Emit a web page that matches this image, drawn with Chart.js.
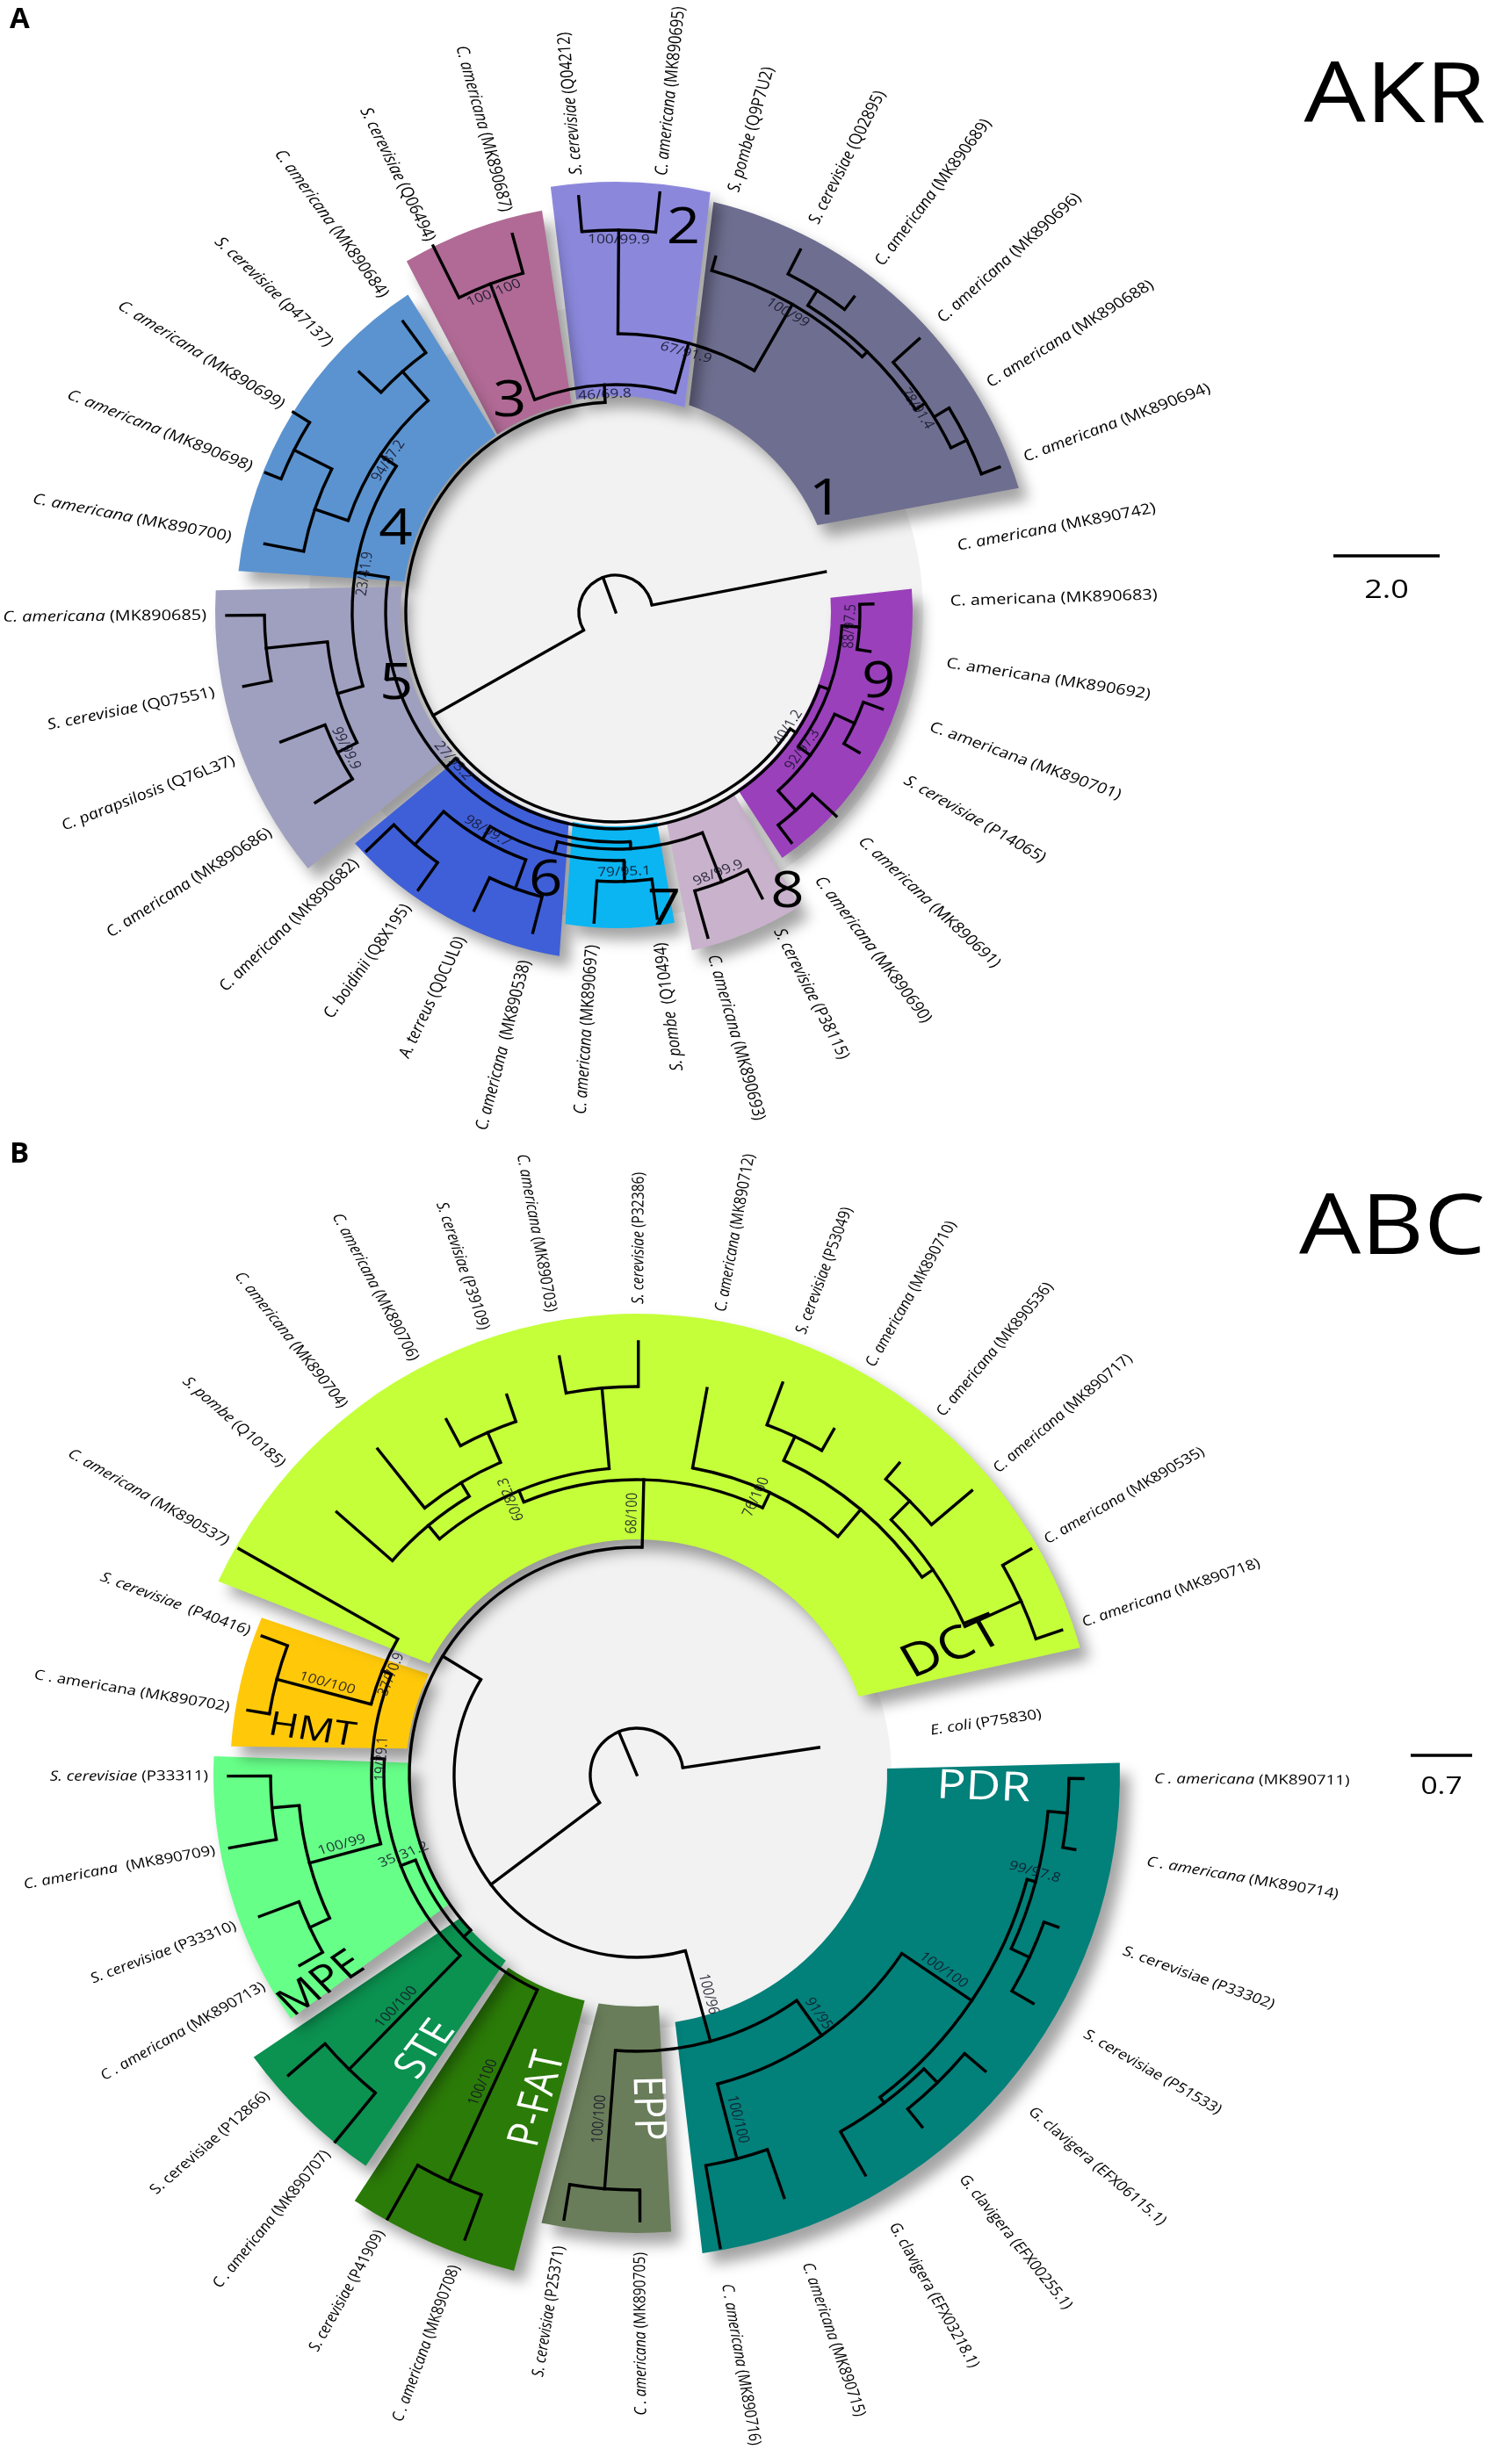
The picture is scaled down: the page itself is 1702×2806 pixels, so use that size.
<!DOCTYPE html>
<html>
<head>
<meta charset="utf-8">
<title>AKR / ABC phylogenies</title>
<script src="https://cdn.jsdelivr.net/npm/chart.js@4.4.1/dist/chart.umd.min.js"></script>
<style>
  html, body { margin: 0; padding: 0; background: #fff; }
  #wrap { width: 1702px; height: 2806px; }
</style>
</head>
<body>
<div id="wrap"><canvas id="tree" width="1702" height="2806"></canvas></div>
<script>
/* ============================================================
   Circular phylogenies (AKR, ABC) drawn on a Chart.js scatter
   ============================================================ */

const deg = Math.PI / 180;
const TEXT_STRETCH = 1.2;   /* the figure's lettering is set a little wide */

/* ─── Panel A: AKR leaves (clockwise) ─── */
const akrSpecies = ["C. americana","C. americana","C. americana","S. cerevisiae","C. americana","C. americana",
  "S. cerevisiae","C. americana","S. pombe ","C. americana","C. americana ","A. terreus","C. boidinii","C. americana",
  "C. americana","C. parapsilosis","S. cerevisiae","C. americana","C. americana","C. americana","C. americana",
  "S. cerevisiae","C. americana","S. cerevisiae","C. americana","S. cerevisiae","C. americana","S. pombe",
  "S. cerevisiae","C. americana","C. americana","C. americana","C. americana","C. americana"];
const akrAccession = ["MK890683","MK890692","MK890701","P14065","MK890691","MK890690","P38115","MK890693",
  "Q10494","MK890697","MK890538","Q0CUL0","Q8X195","MK890682","MK890686","Q76L37","Q07551","MK890685",
  "MK890700","MK890698","MK890699","p47137","MK890684","Q06494","MK890687","Q04212","MK890695","Q9P7U2",
  "Q02895","MK890689","MK890696","MK890688","MK890694","MK890742"];
const akrLeafAngle = [-1.8,8.8,20,30,42.8,52.7,62.9,74.2,82.3,94,104.5,115.4,125.4,136.2,147.6,158.8,168.7,179.5,
  191,201.7,211.8,223.1,233.8,243.5,254.7,264.9,276,285.7,297,307.1,318,328.5,339.3,349.1];
const akrTipRadius = [293,293,323,320,342,330,366,385,352,354,377,376,388,393,405,409,432,443,
  407,429,432,400,410,466,446,475,480,420,463,450,465,426,467,243];
const akrLeafClade = [9,9,9,9,9,9,8,8,7,7,6,6,6,6,5,5,5,5,4,4,4,4,4,3,3,2,2,1,1,1,1,1,1,0];
const akrUpright = [0,1,2];

/* node: r = radius of the node, s = support, c = children (numbers are leaves) */
const akrTree = {r:42, c:[
  {r:239, c:[
    {r:247, a:33.8, s:"40/1.2", c:[
      {r:258, c:[ {r:278, s:"88/97.5", c:[0,1]},
                  {r:275, s:"92/97.3", c:[{r:300, c:[2,3]}, {r:305, c:[4,5]}]} ]},
      {r:262, s:"27/93.2", c:[
        {r:270, c:[ {r:330, s:"98/99.9", c:[6,7]},
                    {r:283, c:[ {r:307, s:"79/95.1", c:[8,9]},
                                {r:300, s:"98/99.7", c:[{r:335, c:[10,11]}, {r:350, c:[12,13]}]} ]} ]},
        {r:300, s:"23/41.9", c:[
          {r:330, c:[ {r:355, s:"99/99.9", c:[14,15]}, {r:400, c:[16,17]} ]},
          {r:322, s:"94/87.2", c:[ {r:362, c:[18, {r:410, c:[19,20]}]}, {r:366, c:[21,22]} ]}
        ]}
      ]}
    ]},
    {r:259, s:"46/69.8", c:[
      {r:400, s:"100/100", c:[23,24]},
      {r:317, s:"67/91.9", c:[
        {r:435, s:"100/99.9", c:[25,26]},
        {r:404, s:"100/99", c:[27, {r:412, c:[ {r:432, c:[28,29]},
                                              {r:425, s:"78/91.4", c:[30, {r:445, c:[31,32]}]} ]}]}
      ]}
    ]}
  ]},
  33
]};

const akrWedgeName   = ["1","2","3","4","5","6","7","8","9"];
const akrWedgeColor  = ["#6e6e90","#8b88dc","#b06a95","#5b93d0","#9f9fbf","#3f5fd8","#0bb5f2","#c9b2cc","#9a40bb"];
const akrWedgeRadius = [[250,480],[246,490],[243,465],[243,432],[245,456],[245,397],[244,360],[247,395],[245,338]];
const akrWedgeInner  = [[289.5,336.7],[259.5,288.6],[236.3,258],[188.3,235.8],[139.4,186.8],[102.6,137.1],[78.9,101.6],[57,76.4],[-3.8,55.5]];
const akrWedgeOuter  = [[283.4,342.9],[261.3,282.7],[239.2,259.6],[186.2,236.8],[140.2,183.1],[99.3,138.4],[79.3,99.2],[58,77.3],[-4.5,55.9]];

/* ─── Panel B: ABC leaves (clockwise) ─── */
const abcSpecies = ["C . americana","C . americana","S. cerevisiae","S. cerevisiae","G. clavigera","G. clavigera",
  "G. clavigera","C. americana","C . americana","C . americana","S. cerevisiae","C . americana","S. cerevisiae",
  "C . americana","S. cerevisiae","C . americana","S. cerevisiae","C. americana ","S. cerevisiae","C . americana",
  "S. cerevisiae ","C. americana","S. pombe","C. americana","C. americana","S. cerevisiae","C. americana",
  "S. cerevisiae","C. americana","S. cerevisiae","C. americana","C. americana","C. americana","C. americana",
  "C. americana","E. coli"];
const abcAccession = ["MK890711","MK890714","P33302","P51533","EFX06115.1","EFX00255.1","EFX03218.1","MK890715",
  "MK890716","MK890705","P25371","MK890708","P41909","MK890707","P12866","MK890713","P33310","MK890709","P33311",
  "MK890702","P40416","MK890537","Q10185","MK890704","MK890706","P39109","MK890703","P32386","MK890712","P53049",
  "MK890710","MK890536","MK890717","MK890535","MK890718","P75830"];
const abcLeafAngle = [0.5,9.7,19.9,30,40.4,51,60.3,70.8,80,89.6,99.3,110.3,119.3,129.4,139.2,150.5,159.4,169.8,
  179.8,189.4,200.3,209.6,221.2,231.5,241.8,251.1,259.5,270.2,280.3,290.4,299.7,310.1,319.7,330.2,341.2,351.5];
const abcTipRadius = [508,506,510,521,521,516,525,510,547,508,513,564,580,541,524,441,459,471,465,449,455,521,
  454,474,459,457,484,493,447,476,453,464,500,517,511,209.5];
const abcLeafClade = [1,1,1,1,1,1,1,1,1,2,2,3,3,4,4,5,5,5,5,6,6,7,7,7,7,7,7,7,7,7,7,7,7,7,7,0];
const abcUpright = [2,3,4,5,6,14,19];

const abcTree = {r:53, c:[
  {r:208, c:[
    {r:315, s:"100/96", o:"r", c:[
      {r:364, s:"91/95", o:"r", c:[
        {r:460, s:"100/100", o:"r", c:[
          {r:470, s:"99/97.8", o:"r", c:[ {r:492, c:[0,1]}, {r:493, c:[2,3]} ]},
          {r:468, c:[ {r:490, c:[4,5]}, 6 ]}
        ]},
        {r:452, s:"100/100", o:"r", c:[7,8]}
      ]},
      {r:473, s:"100/100", o:"r", c:[9,10]}
    ]},
    {r:259, a:211.4, c:[
      {r:270, c:[
        {r:510, s:"100/100", o:"r", c:[11,12]},
        {r:288, s:"35/31.2", o:"r", c:[
          {r:469, s:"100/100", o:"r", c:[13,14]},
          {r:302, s:"19/29.1", c:[
            {r:386, s:"100/99", o:"r", c:[ {r:411, c:[15,16]}, {r:417, c:[17,18]} ]},
            {r:313, s:"37/70.9", c:[ {r:424, s:"100/100", o:"r", c:[19,20]}, 21 ]}
          ]}
        ]}
      ]},
      {r:336, s:"68/100", o:"r", c:[
        {r:350, s:"60/82.3", o:"r", c:[ {r:370, c:[22, {r:388, c:[23, {r:425, c:[24,25]}]}]}, {r:442, c:[26,27]} ]},
        {r:355, s:"76/100", o:"r", c:[28, {r:395, c:[ {r:425, c:[29,30]},
                                                        {r:410, c:[ {r:440, c:[31,32]}, {r:480, c:[33,34]} ]} ]}]}
      ]}
    ]}
  ]},
  35
]};

const abcWedgeName   = ["PDR","EPP","P-FAT","STE","MPE","HMT","DCT"];
const abcWedgeColor  = ["#02807a","#697d5a","#2b7b08","#0b9150","#66ff88","#ffc90a","#c4ff3a"];
const abcWedgeRadius = [[285,550],[264,522],[264,582],[259,542],[258,482],[263,463],[268,525]];
const abcWedgeInner  = [[-1.4,81.2],[84.6,99.5],[103,123.7],[125.2,140.9],[145.4,183],[186.5,205.8],[208.2,340.6]];
const abcWedgeOuter  = [[-1.4,82.2],[85.7,102],[103.9,123.5],[124.7,143.6],[144.8,182.5],[184,202.7],[204.8,344]];

/* ─── Layout (page px) ─── */
const panels = [
  { key: "A", title: "AKR", center: {x:701, y:697}, disc: 350, font: 16.6,
    species: akrSpecies, acc: akrAccession, angles: akrLeafAngle, tips: akrTipRadius,
    clade: akrLeafClade, upright: akrUpright, raw: akrTree,
    labelR: {0:396, 1:497, 2:500, 3:473, 4:446, 5:466, 6:410, 7:380, 8:406, 9:381},
    wedges: { name: akrWedgeName, color: akrWedgeColor, radius: akrWedgeRadius, inner: akrWedgeInner, outer: akrWedgeOuter,
              ink: akrWedgeName.map(() => "#000"), size: akrWedgeName.map(() => 56), upright: true,
              pos: [[270.6,332],[443,280],[268,243.2],[267,200.3],[263,161.7],[317,104.6],[344,80.8],[375,58.6],[310,15.1]] },
    letter: {x:11, y:6}, titlePos: {x:1588, y:112}, bar: {x0:1518, x1:1639, y:633, text:"2.0", ty:672, size:30}
  },
  { key: "B", title: "ABC", center: {x:725, y:2021}, disc: 290, font: 15.6,
    species: abcSpecies, acc: abcAccession, angles: abcLeafAngle, tips: abcTipRadius,
    clade: abcLeafClade, upright: abcUpright, raw: abcTree,
    labelR: {0:338, 1:589, 2:544, 3:596, 4:556, 5:488, 6:470, 7:536},
    wedges: { name: abcWedgeName, color: abcWedgeColor, radius: abcWedgeRadius, inner: abcWedgeInner, outer: abcWedgeOuter,
              ink: ["#fff","#fff","#fff","#fff","#000","#000","#000"], size: [46,42,42,42,44,38,52], upright: false,
              pos: [[395,2.2],[380,88.2],[386,106.9],[394.5,127.5],[431,146.4],[373,187.7],[387,338.1]] },
    letter: {x:11, y:1298}, titlePos: {x:1585, y:1401}, bar: {x0:1606, x1:1676, y:1999, text:"0.7", ty:2035, size:28}
  }
];

/* ─── Tree layout ─── */
function buildTree(raw, angles) {
  if (typeof raw === "number") return { leaf: raw, a: angles[raw] };
  const kids = raw.c.map(k => buildTree(k, angles));
  const a0 = kids[0].a, a1 = kids[kids.length - 1].a;
  return { r: raw.r, s: raw.s, o: raw.o, kids, a0, a1, a: raw.a !== undefined ? raw.a : (a0 + a1) / 2 };
}

function walk(node, parentR, tips, fn) {
  const r = node.kids ? node.r : tips[node.leaf];
  fn(node, parentR, r);
  if (node.kids) node.kids.forEach(k => walk(k, r, tips, fn));
}

function polar(c, r, a) {
  return { x: c.x + r * Math.cos(a * deg), y: c.y + r * Math.sin(a * deg) };
}

function norm(a) { return ((a % 360) + 360) % 360; }

panels.forEach(p => { p.tree = buildTree(p.raw, p.angles); });

/* radial branches → one line dataset, broken by null points */
const branchData = [];
panels.forEach(p => {
  walk(p.tree, 0, p.tips, (n, r0, r1) => {
    branchData.push(polar(p.center, r0, n.a), polar(p.center, r1, n.a), { x: null, y: null });
  });
});

/* ─── Drawing helpers ─── */
function toPx(chart, pt) {
  return { x: chart.scales.x.getPixelForValue(pt.x), y: chart.scales.y.getPixelForValue(pt.y) };
}
function unit(chart) {
  return chart.scales.x.getPixelForValue(1) - chart.scales.x.getPixelForValue(0);
}

/* put ctx at q, reading along page angle `rot`, with the wide lettering */
function textFrame(ctx, q, rot) {
  ctx.translate(q.x, q.y);
  ctx.scale(TEXT_STRETCH, 1);
  ctx.rotate(Math.atan2(Math.sin(rot * deg), Math.cos(rot * deg) / TEXT_STRETCH));
}

function drawWedges(chart, p) {
  const ctx = chart.ctx, u = unit(chart), c = toPx(chart, p.center), w = p.wedges;

  /* inner disc */
  ctx.save();
  ctx.fillStyle = "#f2f2f2";
  ctx.beginPath();
  ctx.arc(c.x, c.y, p.disc * u, 0, Math.PI * 2);
  ctx.fill();
  ctx.restore();

  w.name.forEach((nm, i) => {
    const [rIn, rOut] = w.radius[i];
    const ai = w.inner[i], ao = w.outer[i];
    ctx.save();
    ctx.shadowColor = "rgba(0,0,0,0.36)";
    ctx.shadowBlur = 16;
    ctx.shadowOffsetX = 11;
    ctx.shadowOffsetY = 13;
    ctx.fillStyle = w.color[i];
    ctx.beginPath();
    ctx.arc(c.x, c.y, rOut * u, ao[0] * deg, ao[1] * deg, false);
    const q = toPx(chart, polar(p.center, rIn, ai[1]));
    ctx.lineTo(q.x, q.y);
    ctx.arc(c.x, c.y, rIn * u, ai[1] * deg, ai[0] * deg, true);
    ctx.closePath();
    ctx.fill();
    ctx.restore();
  });
}

function drawArcs(chart, p) {
  const ctx = chart.ctx, u = unit(chart), c = toPx(chart, p.center);
  ctx.save();
  ctx.strokeStyle = "#000";
  ctx.lineWidth = 3.4 * u;
  ctx.lineCap = "butt";
  walk(p.tree, 0, p.tips, (n, r0, r1) => {
    if (!n.kids) return;
    ctx.beginPath();
    ctx.arc(c.x, c.y, r1 * u, n.a0 * deg, n.a1 * deg, false);
    ctx.stroke();
  });
  ctx.restore();
}

function drawSupports(chart, p) {
  const ctx = chart.ctx, u = unit(chart);
  ctx.save();
  ctx.font = (14.5 * u) + 'px "Open Sans"';
  ctx.fillStyle = "rgba(20,20,40,0.88)";
  ctx.textAlign = "center";
  walk(p.tree, 0, p.tips, (n, r0, r1) => {
    if (!n.s) return;
    const a = norm(n.a);
    ctx.save();
    if (n.o === "r") {
      const q = toPx(chart, polar(p.center, (r0 + r1) / 2, n.a));
      const flip = a > 85 && a < 240;
      textFrame(ctx, q, flip ? n.a + 180 : n.a);
      ctx.textBaseline = "bottom";
      ctx.fillText(n.s, 0, -3 * u);
    } else {
      const q = toPx(chart, polar(p.center, r1 - 11, n.a));
      textFrame(ctx, q, a > 0 && a < 180 ? n.a - 90 : n.a + 90);
      ctx.textBaseline = "middle";
      ctx.fillText(n.s, 0, 0);
    }
    ctx.restore();
  });
  ctx.restore();
}

function drawLeafLabels(chart, p) {
  const ctx = chart.ctx, u = unit(chart);
  const size = p.font * u;
  const fNorm = size + 'px "Open Sans"', fItal = "italic " + size + 'px "Open Sans"';
  ctx.save();
  ctx.fillStyle = "#000";
  ctx.textBaseline = "middle";
  ctx.textAlign = "left";
  p.species.forEach((sp, i) => {
    const a = p.angles[i], an = norm(a);
    const q = toPx(chart, polar(p.center, p.labelR[p.clade[i]], a));
    const flip = an > 81 && an < 262;
    const first = sp + " ", second = "(" + p.acc[i] + ")";
    const fontA = p.upright.includes(i) ? fNorm : fItal;
    ctx.font = fontA; const w1 = ctx.measureText(first).width;
    ctx.font = fNorm; const w2 = ctx.measureText(second).width;
    const x0 = flip ? -(w1 + w2) : 0;
    ctx.save();
    textFrame(ctx, q, flip ? a + 180 : a);
    ctx.font = fontA; ctx.fillText(first, x0, 0);
    ctx.font = fNorm; ctx.fillText(second, x0 + w1, 0);
    ctx.restore();
  });
  ctx.restore();
}

function drawCladeNames(chart, p) {
  const ctx = chart.ctx, u = unit(chart), w = p.wedges;
  ctx.save();
  ctx.textAlign = "center";
  ctx.textBaseline = "middle";
  w.name.forEach((nm, i) => {
    const [r, a] = w.pos[i];
    const q = toPx(chart, polar(p.center, r, a));
    const an = norm(a);
    ctx.save();
    textFrame(ctx, q, w.upright ? 0 : (an > 90 && an < 270 ? a - 180 : a));
    ctx.font = (w.size[i] * u) + 'px "Open Sans"';
    ctx.fillStyle = w.ink[i];
    ctx.fillText(nm, 0, 0);
    ctx.restore();
  });
  ctx.restore();
}

function drawAnnotations(chart, p) {
  const ctx = chart.ctx, u = unit(chart);
  ctx.save();
  ctx.fillStyle = "#000";
  /* panel letter */
  const L = toPx(chart, p.letter);
  ctx.font = "bold " + (33 * u) + 'px "Open Sans"';
  ctx.textAlign = "left"; ctx.textBaseline = "top";
  ctx.fillText(p.key, L.x, L.y);
  /* family title */
  const T = toPx(chart, p.titlePos);
  ctx.save();
  ctx.translate(T.x, T.y);
  ctx.scale(1.17, 1);
  ctx.font = (95 * u) + 'px "Open Sans"';
  ctx.textAlign = "center"; ctx.textBaseline = "middle";
  ctx.fillText(p.title, 0, 0);
  ctx.restore();
  /* scale bar */
  const b = p.bar;
  const s0 = toPx(chart, {x: b.x0, y: b.y}), s1 = toPx(chart, {x: b.x1, y: b.y});
  ctx.strokeStyle = "#000"; ctx.lineWidth = 3.5 * u;
  ctx.beginPath(); ctx.moveTo(s0.x, s0.y); ctx.lineTo(s1.x, s1.y); ctx.stroke();
  const t = toPx(chart, {x: (b.x0 + b.x1) / 2, y: b.ty});
  ctx.save();
  textFrame(ctx, t, 0);
  ctx.font = (b.size * u) + 'px "Open Sans"';
  ctx.textAlign = "center"; ctx.textBaseline = "middle";
  ctx.fillText(b.text, 0, 0);
  ctx.restore();
  ctx.restore();
}

const treePlugin = {
  id: "circularTree",
  beforeDatasetsDraw(chart) {
    panels.forEach(p => drawWedges(chart, p));
  },
  afterDatasetsDraw(chart) {
    panels.forEach(p => {
      drawArcs(chart, p);
      drawSupports(chart, p);
      drawLeafLabels(chart, p);
      drawCladeNames(chart, p);
      drawAnnotations(chart, p);
    });
  }
};

/* ─── Boot ─── */
new Chart(document.getElementById("tree"), {
  type: "scatter",
  data: {
    datasets: [{
      label: "branches",
      data: branchData,
      showLine: true,
      spanGaps: false,
      borderColor: "#000",
      borderWidth: 3.4,
      borderCapStyle: "square",
      pointRadius: 0,
      pointHoverRadius: 0,
      fill: false,
      tension: 0,
      clip: false
    }]
  },
  options: {
    responsive: false,
    animation: false,
    events: [],
    layout: { padding: 0 },
    scales: {
      x: { type: "linear", min: 0, max: 1702, display: false },
      y: { type: "linear", min: 0, max: 2806, reverse: true, display: false }
    },
    plugins: { legend: { display: false }, tooltip: { enabled: false } }
  },
  plugins: [treePlugin]
});
</script>
</body>
</html>
